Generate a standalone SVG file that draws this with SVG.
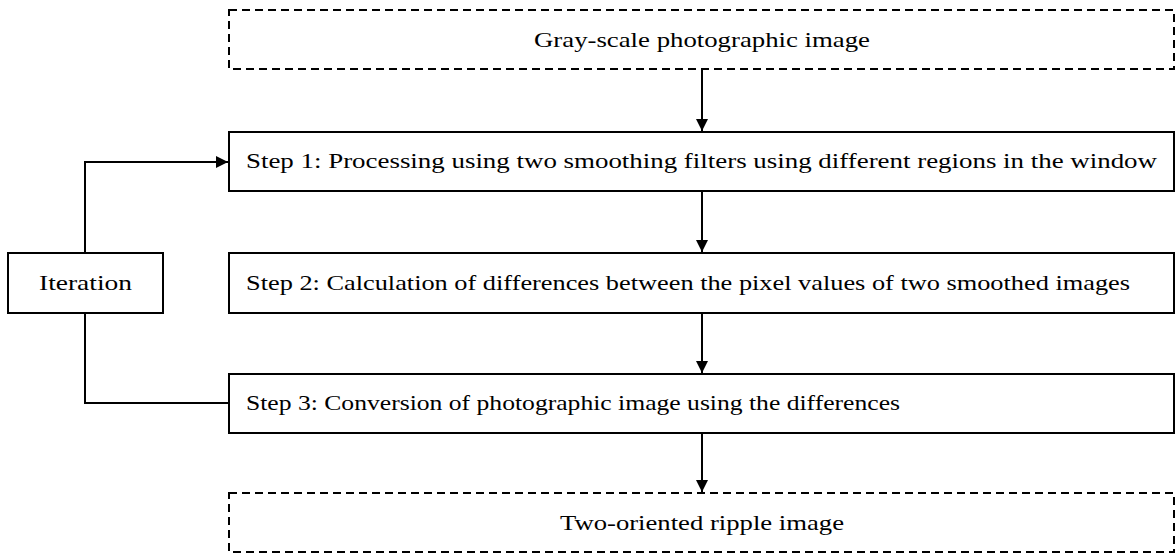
<svg xmlns="http://www.w3.org/2000/svg" width="1176" height="553" viewBox="0 0 1176 553">
<style>
.box{fill:#fff;stroke:#000;stroke-width:2}
.dash{fill:#fff;stroke:#000;stroke-width:2;stroke-dasharray:8 5}
.t{font-family:'Liberation Serif','Times New Roman',serif;font-size:22px;fill:#000}
.c{text-anchor:middle}
.ln{fill:none;stroke:#000;stroke-width:2}
</style>
<defs>
<marker id="ahv" markerWidth="14" markerHeight="12" refX="12" refY="6" orient="auto" markerUnits="userSpaceOnUse" viewBox="0 0 14 12">
<path d="M0,0 L12,6 L0,12 z" fill="#000"/>
</marker>
</defs>
<g id="connectors">
<line class="ln" x1="702" y1="69" x2="702" y2="131" marker-end="url(#ahv)"/>
<line class="ln" x1="702" y1="191" x2="702" y2="252" marker-end="url(#ahv)"/>
<line class="ln" x1="702" y1="313" x2="702" y2="373" marker-end="url(#ahv)"/>
<line class="ln" x1="702" y1="433" x2="702" y2="492" marker-end="url(#ahv)"/>
<polyline class="ln" points="85,253 85,162 228,162" marker-end="url(#ahv)"/>
<polyline class="ln" points="85,313 85,403 229,403"/>
</g>
<g id="input">
<rect class="dash" x="229" y="10" width="945" height="59"/>
<text class="t c" x="702" y="47" textLength="336" lengthAdjust="spacingAndGlyphs" font-family="Liberation Serif">Gray-scale photographic image</text>
</g>
<g id="step1">
<rect class="box" x="229" y="132" width="945" height="59"/>
<text class="t" x="246" y="168" textLength="911" lengthAdjust="spacingAndGlyphs" font-family="Liberation Serif">Step 1: Processing using two smoothing filters using different regions in the window</text>
</g>
<g id="iteration">
<rect class="box" x="8" y="253" width="155" height="60"/>
<text class="t c" x="85.5" y="290" textLength="93" lengthAdjust="spacingAndGlyphs" font-family="Liberation Serif">Iteration</text>
</g>
<g id="step2">
<rect class="box" x="229" y="253" width="945" height="60"/>
<text class="t" x="246" y="290" textLength="884" lengthAdjust="spacingAndGlyphs" font-family="Liberation Serif">Step 2: Calculation of differences between the pixel values of two smoothed images</text>
</g>
<g id="step3">
<rect class="box" x="229" y="374" width="945" height="59"/>
<text class="t" x="246" y="410" textLength="654" lengthAdjust="spacingAndGlyphs" font-family="Liberation Serif">Step 3: Conversion of photographic image using the differences</text>
</g>
<g id="output">
<rect class="dash" x="229" y="493" width="945" height="59"/>
<text class="t c" x="702" y="530" textLength="284" lengthAdjust="spacingAndGlyphs" font-family="Liberation Serif">Two-oriented ripple image</text>
</g>
</svg>
